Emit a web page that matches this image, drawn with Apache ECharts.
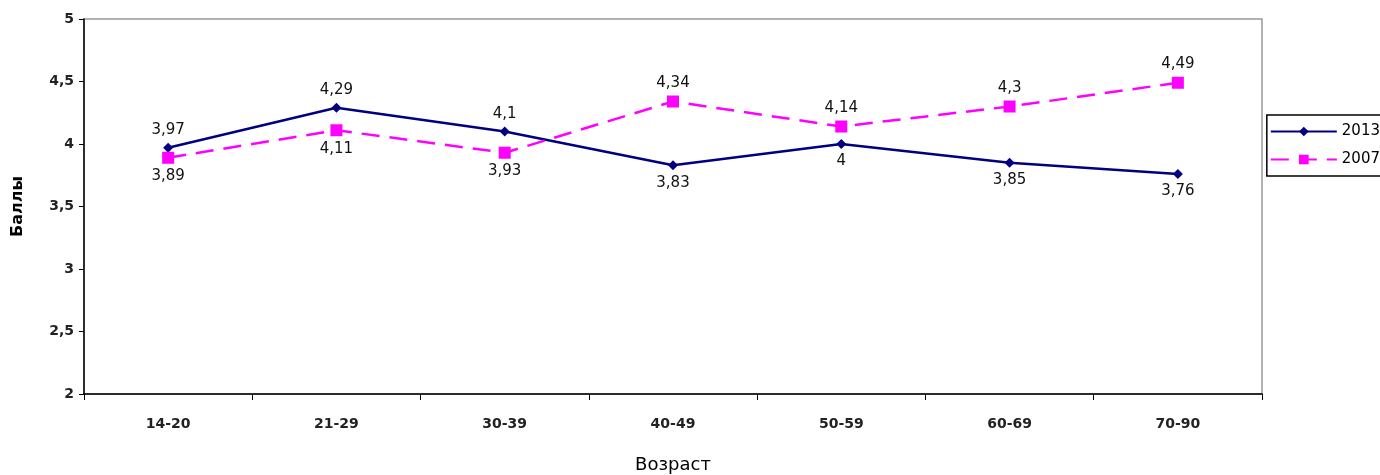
<!DOCTYPE html>
<html><head><meta charset="utf-8">
<script src="https://cdn.jsdelivr.net/npm/echarts@6/dist/echarts.min.js"></script>
<style>html,body{margin:0;padding:0;background:#fff}#c{width:1380px;height:475px}</style>
</head><body><div id="c"></div>
<script>
const categories = ['14-20','21-29','30-39','40-49','50-59','60-69','70-90'];
const s2013 = [3.97, 4.29, 4.1, 3.83, 4, 3.85, 3.76];
const s2007 = [3.89, 4.11, 3.93, 4.34, 4.14, 4.3, 4.49];
const pos2013 = ['top','top','top','bottom','bottom','bottom','bottom'];
const pos2007 = ['bottom','bottom','bottom','top','top','top','top'];
const fmt = v => String(v).replace('.', ',');
const font = '"DejaVu Sans", sans-serif';
const chart = echarts.init(document.getElementById('c'));
function mk(vals, pos) {
  return vals.map((v, i) => ({value: v, label: {position: pos[i]}}));
}
chart.setOption({
  animation: false,
  grid: {left: 84, right: 118, top: 19, bottom: 81, show: true, borderColor: '#999', borderWidth: 1.5,
         outerBoundsMode: 'none', containLabel: false},
  legend: {
    right: -6, top: 115, orient: 'vertical', itemWidth: 66, itemHeight: 12, itemGap: 13,
    borderColor: '#000', borderWidth: 1.5, padding: [9, 6, 9, 3],
    textStyle: {fontFamily: font, fontSize: 15, color: '#000'},
    data: ['2013', '2007']
  },
  xAxis: {
    type: 'category', data: categories, boundaryGap: true,
    axisLine: {lineStyle: {color: '#000', width: 1.5}},
    axisTick: {show: true, length: 6, lineStyle: {color: '#000'}},
    axisLabel: {fontFamily: font, fontSize: 14, fontWeight: 'bold', color: '#222', margin: 23},
    name: 'Возраст', nameLocation: 'middle', nameGap: 62,
    nameTextStyle: {fontFamily: font, fontSize: 18, color: '#000'}
  },
  yAxis: {
    type: 'value', min: 2, max: 5, interval: 0.5,
    axisLine: {show: true, lineStyle: {color: '#000', width: 1.5}},
    axisTick: {show: true, length: 5, lineStyle: {color: '#000'}},
    splitLine: {show: false},
    axisLabel: {fontFamily: font, fontSize: 14, fontWeight: 'bold', color: '#222', margin: 10, formatter: v => fmt(v)},
    name: 'Баллы', nameLocation: 'middle', nameGap: 58, nameRotate: 90,
    nameTextStyle: {fontFamily: font, fontSize: 16, fontWeight: 'bold', color: '#000'}
  },
  series: [
    {name: '2013', type: 'line', data: mk(s2013, pos2013), symbol: 'diamond', symbolSize: 10,
     itemStyle: {color: '#000080'}, lineStyle: {color: '#000080', width: 2.5},
     label: {show: true, fontFamily: font, fontSize: 15, color: '#111', distance: 5,
       formatter: p => fmt(p.value)}},
    {name: '2007', type: 'line', data: mk(s2007, pos2007), symbol: 'rect', symbolSize: 12,
     itemStyle: {color: '#FF00FF'}, lineStyle: {color: '#FF00FF', width: 2.5, type: [18, 10]},
     label: {show: true, fontFamily: font, fontSize: 15, color: '#111', distance: 5,
       formatter: p => fmt(p.value)}}
  ]
});
</script></body></html>
